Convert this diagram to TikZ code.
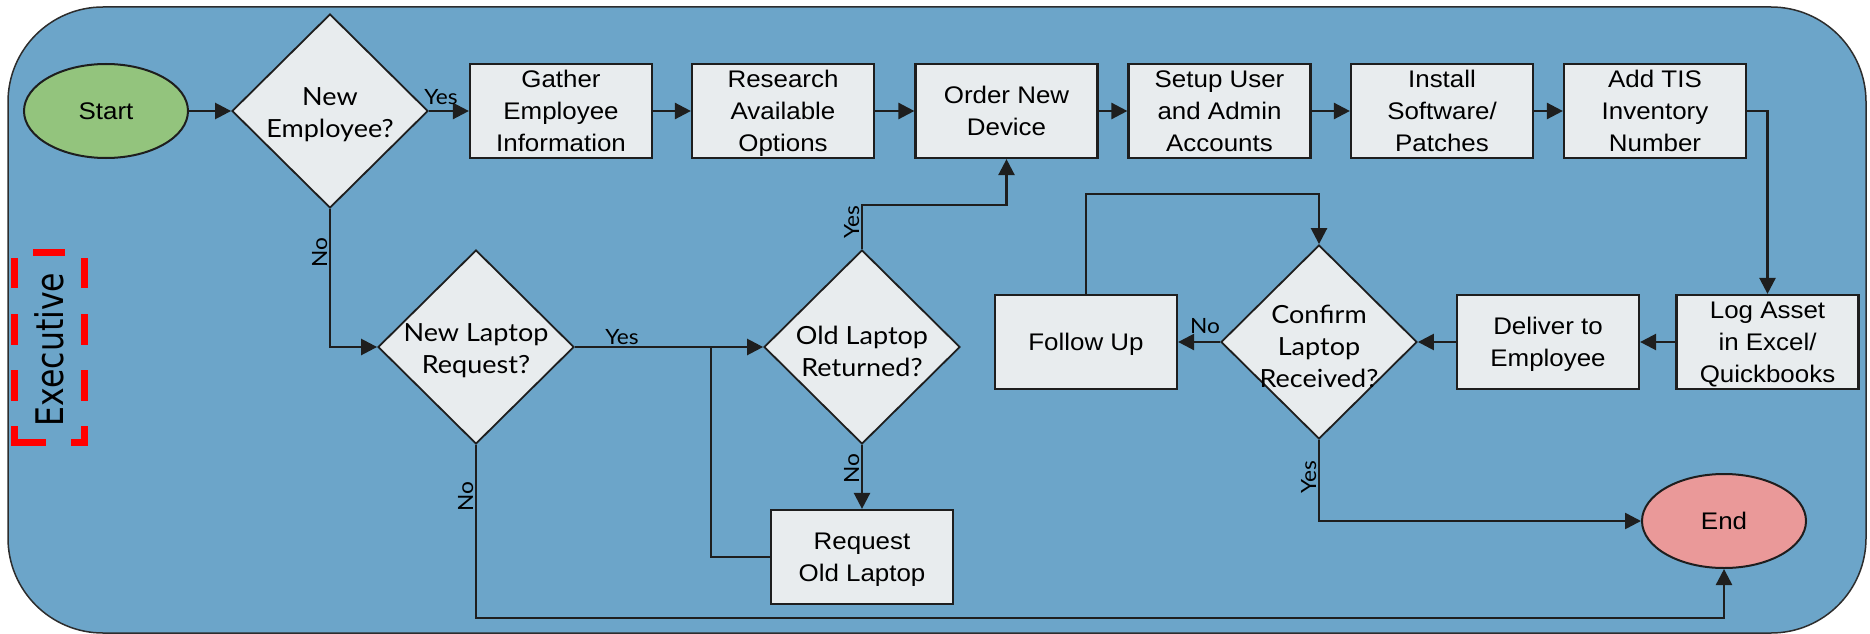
\documentclass[tikz,border=0pt]{standalone}
\usepackage{fontspec}
\setmainfont{Liberation Sans}
\newfontfamily\boxfont[FakeStretch=1.08]{Liberation Sans}
\newfontfamily\decfont[FakeStretch=1.08]{Lato}
\newfontfamily\lanefont[FakeStretch=0.83]{DejaVu Sans}
\usetikzlibrary{arrows.meta,shapes.geometric}

\definecolor{lanebg}{RGB}{108,165,201}
\definecolor{boxfill}{RGB}{232,236,238}
\definecolor{startfill}{RGB}{147,196,125}
\definecolor{endfill}{RGB}{234,153,153}
\definecolor{ink}{RGB}{30,30,30}
\definecolor{laneborder}{RGB}{45,45,45}
\definecolor{lanered}{RGB}{255,0,0}

\begin{document}
\begin{tikzpicture}[x=1pt,y=-1pt,
  process/.style={rectangle, draw=ink, line width=2.2pt, fill=boxfill,
    minimum width=182pt, minimum height=94pt, inner sep=0pt, align=center,
    text depth=0pt, font=\boxfont\fontsize{24}{32}\selectfont},
  decision/.style={diamond, draw=ink, line width=1.8pt, fill=boxfill,
    minimum width=196pt, minimum height=194pt, inner sep=0pt, shape aspect=1},
  dectext/.style={align=center, inner sep=0pt, yshift=-4pt,
    font=\decfont\fontsize{25}{32}\selectfont},
  terminal/.style={ellipse, draw=ink, line width=2pt, minimum width=164pt,
    minimum height=94pt, inner sep=0pt, font=\boxfont\fontsize{24}{32}\selectfont},
  flow/.style={draw=ink, line width=2.5pt, -{Triangle[length=16pt,width=16pt]}},
  link/.style={draw=ink, line width=2.5pt},
  lbl/.style={inner sep=0pt, font=\decfont\fontsize{21}{24}\selectfont},
  vlbl/.style={lbl, rotate=90, anchor=base},
  laneframe/.style={draw=lanered, line width=7pt, line cap=butt},
]
\useasboundingbox (0,0) rectangle (1870,634);
\fill[white] (0,0) rectangle (1870,634);

% swimlane background
\draw[draw=laneborder, line width=1.5pt, fill=lanebg, rounded corners=95pt]
  (8,7) rectangle (1866,633);

% lane title with its dashed frame
\node[rotate=90, anchor=base, inner sep=0pt,
  font=\lanefont\fontsize{38}{38}\selectfont] (lane) at (63,349.5) {Executive};
\foreach \ya/\yb in {258/288, 314/345, 370/401, 426/446} {
  \draw[laneframe] (14.5,\ya) -- (14.5,\yb);
  \draw[laneframe] (84.5,\ya) -- (84.5,\yb);
}
\draw[laneframe] (33,252.5) -- (65,252.5);
\draw[laneframe] (11,442.5) -- (46,442.5);
\draw[laneframe] (71,442.5) -- (88,442.5);

% top row
\node[terminal, fill=startfill] (start) at (106,111) {Start};
\node[decision, label={[dectext]center:{New\\Employee?}}] (ne) at (330,111) {};
\node[process] (gather) at (561,111) {Gather\\Employee\\Information};
\node[process] (research) at (783,111) {Research\\Available\\Options};
\node[process] (order) at (1006.5,111) {Order New\\Device};
\node[process] (setup) at (1219.5,111) {Setup User\\and Admin\\Accounts};
\node[process] (install) at (1442,111) {Install\\Software/\\Patches};
\node[process] (tis) at (1655,111) {Add TIS\\Inventory\\Number};

% second row
\node[process] (log) at (1767.5,342) {Log Asset\\in Excel/\\Quickbooks};
\node[process] (deliver) at (1548,342) {Deliver to\\Employee};
\node[decision, label={[dectext]center:{Confirm\\Laptop\\Received?}}] (confirm) at (1319,342) {};
\node[process] (fu) at (1086,342) {Follow Up};
\node[decision, label={[dectext]center:{New Laptop\\Request?}}] (nl) at (476,347) {};
\node[decision, label={[dectext]center:{Old Laptop\\Returned?}}] (ol) at (862,347) {};

% bottom row
\node[process] (req) at (862,557) {Request\\Old Laptop};
\node[terminal, fill=endfill] (end) at (1724,521) {End};

% bend points
\coordinate (ordTurn) at (1006.5,205);
\coordinate (fuTurn) at (1086,194);
\coordinate (reqTurn) at (711,347);
\coordinate (botTurn) at (476,618);

% connectors
\draw[flow] (start) -- (ne);
\draw[flow] (ne.east) -- (gather.west);
\draw[flow] (gather) -- (research);
\draw[flow] (research) -- (order);
\draw[flow] (order) -- (setup);
\draw[flow] (setup) -- (install);
\draw[flow] (install) -- (tis);
\draw[flow] (tis.east) -| (log.north);
\draw[flow] (log.west) -- (deliver.east);
\draw[flow] (deliver.west) -- (confirm.east);
\draw[flow] (confirm.west) -- (fu.east);
\draw[flow] (fu.north) -- (fuTurn) -| (confirm.north);
\draw[flow] (confirm.south) |- (end.west);
\draw[flow] (ne.south) |- (nl.west);
\draw[flow] (nl.east) -- (ol.west);
\draw[flow] (nl.south) -- (botTurn) -| (end.south);
\draw[flow] (ol.north) |- (ordTurn) -- (order.south);
\draw[flow] (ol.south) -- (req.north);
\draw[link] (req.west) -| (reqTurn);

% branch labels
\node[lbl, anchor=base] (y1) at (441,104) {Yes};
\node[vlbl] (n1) at (327,253) {No};
\node[lbl, anchor=base] (y2) at (622,344) {Yes};
\node[vlbl] (n2) at (473,497) {No};
\node[vlbl] (y3) at (859,222) {Yes};
\node[vlbl] (n3) at (859,469) {No};
\node[lbl, anchor=base] (n4) at (1205,333) {No};
\node[vlbl] (y4) at (1316,477) {Yes};
\end{tikzpicture}
\end{document}
